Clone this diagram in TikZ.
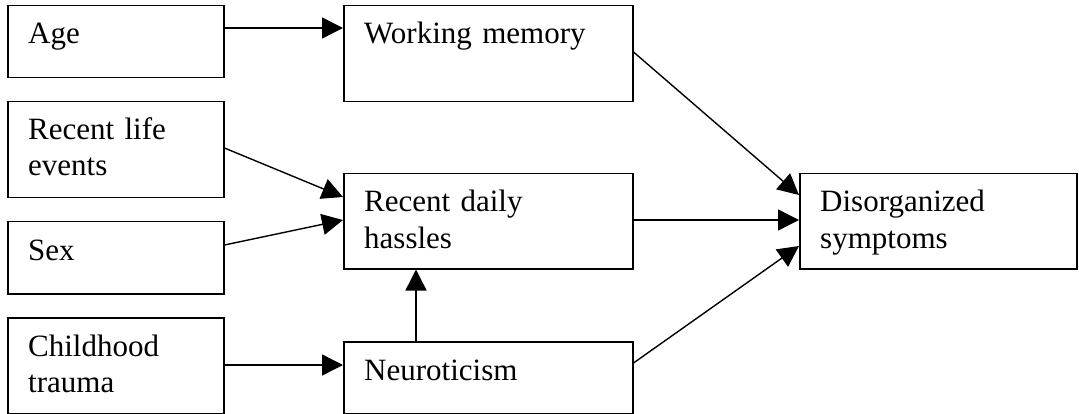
\documentclass[tikz,border=0pt]{standalone}
\usepackage{fontspec}
\setmainfont{Liberation Serif}
\usetikzlibrary{arrows.meta}
\begin{document}
\begin{tikzpicture}[x=1pt,y=-1pt,
  box/.style n args={2}{draw,line width=1.5pt,inner sep=0pt,anchor=north west,
    minimum width=#1,minimum height=#2},
  lbl/.style={anchor=base west,inner sep=0pt,text width=270pt,align=left,
    font=\fontsize{31}{36}\selectfont},
  arr/.style={line width=1.4pt,-{Triangle[length=21pt,width=21pt]}}]
\useasboundingbox (0,0) rectangle (1079,414);

% boxes
\node[box={216pt}{72pt}]  (age)     at (7,5)     {};
\node[box={216pt}{96pt}]  (life)    at (7,101)   {};
\node[box={216pt}{72pt}]  (sex)     at (7,221)   {};
\node[box={216pt}{96pt}]  (trauma)  at (7,317)   {};
\node[box={289pt}{96pt}]  (wm)      at (343,5)   {};
\node[box={289pt}{95pt}]  (hassles) at (343,173) {};
\node[box={289pt}{72pt}]  (neuro)   at (343,341) {};
\node[box={277pt}{95pt}]  (dis)     at (799,173) {};

% labels
\node[lbl] at ([shift={(21,39)}]age.north west)     {Age};
\node[lbl] at ([shift={(21,39)}]life.north west)    {Recent life\\events};
\node[lbl] at ([shift={(21,39)}]sex.north west)     {Sex};
\node[lbl] at ([shift={(21,39)}]trauma.north west)  {Childhood\\trauma};
\node[lbl] at ([shift={(21,39)}]wm.north west)      {Working memory};
\node[lbl] at ([shift={(21,39)}]hassles.north west) {Recent daily\\hassles};
\node[lbl] at ([shift={(21,39)}]neuro.north west)   {Neuroticism};
\node[lbl] at ([shift={(21,39)}]dis.north west)     {Disorganized\\symptoms};

% paths
\draw[arr] ([shift={(0,23)}]age.north east)    -- ([shift={(0,23)}]wm.north west);
\draw[arr] ([shift={(0,47)}]life.north east)   -- ([shift={(0,24)}]hassles.north west);
\draw[arr] ([shift={(0,24)}]sex.north east)    -- ([shift={(0,47)}]hassles.north west);
\draw[arr] ([shift={(0,48)}]trauma.north east) -- ([shift={(0,24)}]neuro.north west);
\draw[arr] ([shift={(73,0)}]neuro.north west)  -- ([shift={(73,0)}]hassles.south west);
\draw[arr] ([shift={(0,47)}]wm.north east)     -- ([shift={(0,22)}]dis.north west);
\draw[arr] ([shift={(0,47)}]hassles.north east) -- ([shift={(0,47)}]dis.north west);
\draw[arr] ([shift={(0,22)}]neuro.north east)  -- ([shift={(0,73)}]dis.north west);
\end{tikzpicture}
\end{document}
